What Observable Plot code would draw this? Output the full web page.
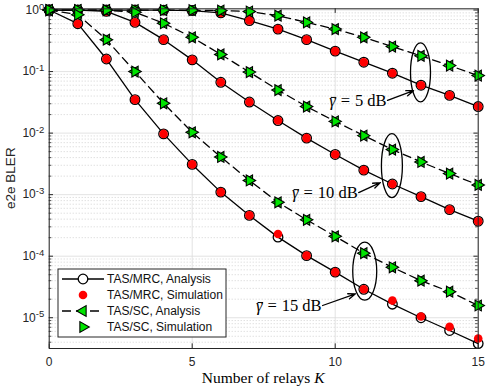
<!DOCTYPE html>
<html><head><meta charset="utf-8">
<script src="https://cdn.jsdelivr.net/npm/d3@7"></script>
<script src="https://cdn.jsdelivr.net/npm/@observablehq/plot@0.6"></script>
<style>body{margin:0;background:#fff}</style>
</head><body><div id="chart"></div>
<script>
// ---- data ----
const relays = [0,1,2,3,4,5,6,7,8,9,10,11,12,13,14,15];
const mrc5  = [1,1,1,1,0.995,0.98,0.9,0.675,0.49,0.33,0.215,0.142,0.094,0.06,0.041,0.027];
const sc5   = [1,1,1,1,1,0.995,0.98,0.945,0.81,0.63,0.49,0.36,0.255,0.18,0.125,0.086];
const mrc10 = [1,0.995,0.95,0.63,0.33,0.155,0.067,0.032,0.016,0.0083,0.0045,0.0025,0.00149,0.00093,0.00057,0.00037];
const sc10  = [1,1,0.995,0.92,0.61,0.36,0.19,0.098,0.05,0.027,0.0155,0.0091,0.0054,0.0034,0.0022,0.00144];
const mrc15 = [1,0.6,0.16,0.035,0.0097,0.0031,0.0011,0.00046,0.000204,0.000102,0.000055,0.000029,0.0000166,0.00001,0.0000062,0.0000038];
const sc15  = [1,0.84,0.33,0.1,0.0305,0.0103,0.0041,0.0017,0.00075,0.00039,0.00021,0.000112,0.000066,0.00004,0.0000265,0.0000158];
// simulation values (where they differ visibly from analysis)
const mrc5Sim = mrc5, sc5Sim = sc5, mrc10Sim = mrc10, sc10Sim = sc10, sc15Sim = sc15;
const mrc15Sim = [1,0.6,0.16,0.035,0.0097,0.0031,0.0011,0.00046,0.00023,0.000102,0.000055,0.000029,0.000019,0.0000105,0.0000071,0.0000046];
const xTicks = [0,5,10,15];
const yTicks = [1e-5,1e-4,1e-3,1e-2,1e-1,1];
const legendLabels = ["TAS/MRC, Analysis","TAS/MRC, Simulation","TAS/SC, Analysis","TAS/SC, Simulation"];
const annotations = [
  {label:"5 dB",  tx:11.83, ty:0.034,   ax:12.74, ay:0.049,   ex:13,    ey:0.095},
  {label:"10 dB", tx:10.82, ty:0.00108, ax:11.58, ay:0.00157, ex:12,    ey:0.0029},
  {label:"15 dB", tx:9.56,  ty:1.58e-5, ax:10.71, ay:2.45e-5, ex:11.05, ey:5.6e-5}
];
const ellipseSize = [[10,29.5],[10.5,32],[12,29]];

// ---- build tables ----
function rows(arr, snr){ return relays.map((k,i)=>({K:k, v:arr[i], snr})); }
const mrcA = [...rows(mrc5,5),...rows(mrc10,10),...rows(mrc15,15)];
const scA  = [...rows(sc5,5),...rows(sc10,10),...rows(sc15,15)];
const mrcS = [...rows(mrc5Sim,5),...rows(mrc10Sim,10),...rows(mrc15Sim,15)];
const scS  = [...rows(sc5Sim,5),...rows(sc10Sim,10),...rows(sc15Sim,15)];

const yMin = Math.pow(10,-5.5), yMax = Math.pow(10,0.02);
const minorY = [];
for (let e=-6;e<=0;e++) for (let m=2;m<=9;m++){ const v=m*Math.pow(10,e); if(v>yMin&&v<yMax) minorY.push(v); }

function triSym(dir){
  return {draw(ctx,size){
    const r=Math.sqrt(size/Math.PI), R=r*1.25;
    ctx.moveTo(dir*R,0); ctx.lineTo(-dir*R*0.5, R*0.866); ctx.lineTo(-dir*R*0.5,-R*0.866); ctx.closePath();
  }};
}
const triLeft = triSym(-1), triRight = triSym(1);
const GREEN = "#00e400", AX = "#262626";
const SERIF = "'Liberation Serif', 'Times New Roman', serif";
const SANS = "'Liberation Sans', Arial, sans-serif";
const ANN_FS = 16.5;
const tk = 0.15, tkm = 0.09;          // tick lengths in x units
const ty = Math.pow(10,0.075);

const plot = Plot.plot({
  width:488, height:388,
  marginLeft:48.7, marginRight:10.3, marginTop:8.3, marginBottom:40,
  x:{domain:[0,15]},
  y:{type:"log", domain:[yMin,yMax]},
  style:{fontFamily:SANS, fontSize:"12px", color:AX, background:"white"},
  marks:[
    Plot.ruleY(minorY,{stroke:"#c8c8c8", strokeDasharray:"1,2", strokeWidth:0.8}),
    Plot.ruleY(yTicks,{stroke:"#dcdcdc", strokeWidth:0.8}),
    Plot.ruleX(xTicks,{stroke:"#dcdcdc", strokeWidth:0.8}),
    // inward ticks
    Plot.ruleY(yTicks,{x1:0, x2:tk, stroke:AX}),
    Plot.ruleY(yTicks,{x1:15-tk, x2:15, stroke:AX}),
    Plot.ruleY(minorY,{x1:0, x2:tkm, stroke:AX, strokeWidth:0.8}),
    Plot.ruleY(minorY,{x1:15-tkm, x2:15, stroke:AX, strokeWidth:0.8}),
    Plot.ruleX(xTicks,{y1:yMin, y2:yMin*ty, stroke:AX}),
    Plot.ruleX(xTicks,{y1:yMax/ty, y2:yMax, stroke:AX}),
    Plot.axisX({ticks:xTicks, tickSize:0, tickPadding:9, label:null, tickFormat:d=>String(d)}),
    Plot.axisY({ticks:yTicks, tickSize:0, tickPadding:5, label:null, tickFormat:d=>"10^"+Math.round(Math.log10(d))}),
    // lines
    Plot.line(mrcA,{x:"K", y:"v", z:"snr", stroke:"black", strokeWidth:1.3}),
    Plot.line(scA,{x:"K", y:"v", z:"snr", stroke:"black", strokeWidth:1.3, strokeDasharray:"8,5"}),
    // markers
    Plot.dot(mrcA,{x:"K", y:"v", r:4.8, stroke:"black", fill:"none", strokeWidth:1.3}),
    Plot.dot(mrcS,{x:"K", y:"v", r:4.3, fill:"#ff0000", stroke:"none"}),
    Plot.dot(scA,{x:"K", y:"v", r:5, symbol:triLeft, fill:GREEN, stroke:"black", strokeWidth:1.1}),
    Plot.dot(scS,{x:"K", y:"v", r:5, symbol:triRight, fill:GREEN, stroke:"black", strokeWidth:1.1}),
    Plot.frame({stroke:AX, strokeWidth:1}),
    // annotations
    Plot.arrow(annotations,{x1:"tx", y1:"ty", x2:"ax", y2:"ay", stroke:"black", strokeWidth:1.3, headLength:9, headAngle:40}),
    Plot.text(annotations,{x:"tx", y:"ty", text:d=>d.label, textAnchor:"end", dx:-1,
      fontFamily:SERIF, fontSize:ANN_FS, fill:"black", className:"annot"})
  ]
});
document.getElementById("chart").appendChild(plot);
const svg = d3.select(plot);
const xs = plot.scale("x"), ys = plot.scale("y");

// superscript tick labels
svg.selectAll('g[aria-label="y-axis tick label"] text').each(function(){
  const t = d3.select(this); const s = t.text(); const ex = s.split("^")[1];
  if (ex === undefined) return;
  t.text("10"); t.append("tspan").attr("dy","-0.45em").attr("font-size","9.5px").text(ex);
});
// annotation text: italic gamma with a drawn bar, math spacing around '='
svg.selectAll('.annot text').each(function(){
  const t = d3.select(this); const s = t.text();
  t.text("");
  t.append("tspan").attr("font-style","italic").text("γ");
  t.append("tspan").attr("dx","0.3em").text("=");
  t.append("tspan").attr("dx","0.3em").text(s);
  const p0 = this.getStartPositionOfChar(0), p1 = this.getEndPositionOfChar(0);
  const bar = d3.select(this.parentNode).append("line")
    .attr("x1",p0.x+1.6).attr("x2",p1.x+0.6)
    .attr("y1",p0.y-ANN_FS*0.5).attr("y2",p0.y-ANN_FS*0.5)
    .attr("stroke","black").attr("stroke-width",1);
  if (this.getAttribute("transform")) bar.attr("transform",this.getAttribute("transform"));
});
// ellipses
annotations.forEach((a,i)=>{
  svg.append("ellipse").attr("cx",xs.apply(a.ex)).attr("cy",ys.apply(a.ey))
    .attr("rx",ellipseSize[i][0]).attr("ry",ellipseSize[i][1])
    .attr("fill","none").attr("stroke","black").attr("stroke-width",1.3);
});
// axis titles
const cx = xs.apply(7.5), cy = (ys.apply(yMin)+ys.apply(yMax))/2;
const xl = svg.append("text").attr("x",cx).attr("y",383).attr("text-anchor","middle")
  .attr("font-family",SERIF).attr("font-size","15.5px").attr("fill","black");
xl.append("tspan").text("Number of relays ");
xl.append("tspan").attr("font-style","italic").text("K");
svg.append("text").attr("transform",`translate(11,${cy}) rotate(-90)`).attr("text-anchor","middle")
  .attr("dominant-baseline","middle").attr("font-size","13.5px").attr("fill",AX).text("e2e BLER");

// legend
const lg = svg.append("g").attr("font-size","12px").attr("fill","black").attr("text-anchor","start");
lg.append("rect").attr("x",58).attr("y",269).attr("width",168).attr("height",68).attr("fill","white").attr("stroke",AX).attr("stroke-width",1);
const rowsY = [279,295,311,327];
const sym = (s, r) => { const p = d3.path(); s.draw(p, Math.PI*r*r); return p.toString(); };
lg.append("line").attr("x1",62).attr("x2",104).attr("y1",rowsY[0]).attr("y2",rowsY[0]).attr("stroke","black").attr("stroke-width",1.3);
lg.append("circle").attr("cx",83).attr("cy",rowsY[0]).attr("r",4.8).attr("fill","white").attr("stroke","black").attr("stroke-width",1.3);
lg.append("circle").attr("cx",83).attr("cy",rowsY[1]).attr("r",4.3).attr("fill","#ff0000");
lg.append("line").attr("x1",62).attr("x2",104).attr("y1",rowsY[2]).attr("y2",rowsY[2]).attr("stroke","black").attr("stroke-width",1.3).attr("stroke-dasharray","9,5");
lg.append("path").attr("d",sym(triLeft,5)).attr("transform",`translate(83,${rowsY[2]})`).attr("fill",GREEN).attr("stroke","black").attr("stroke-width",1.1);
lg.append("path").attr("d",sym(triRight,5)).attr("transform",`translate(83,${rowsY[3]})`).attr("fill",GREEN).attr("stroke","black").attr("stroke-width",1.1);
legendLabels.forEach((l,i)=>{
  lg.append("text").attr("x",107).attr("y",rowsY[i]).attr("dy","0.35em").attr("fill","#111")
    .attr("font-family",SANS).text(l);
});
</script>
</body></html>
